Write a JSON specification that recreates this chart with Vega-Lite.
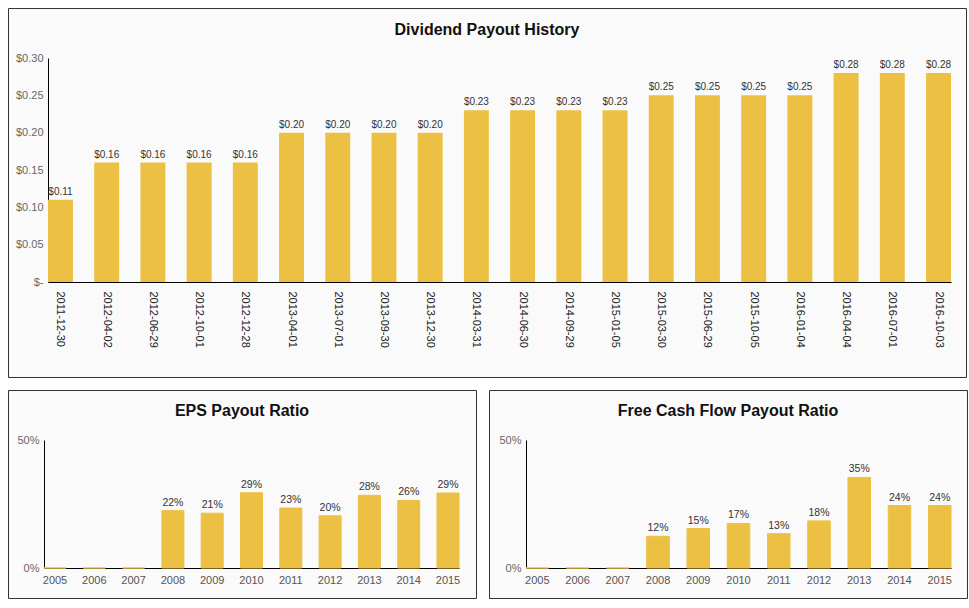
{
  "$schema": "https://vega.github.io/schema/vega-lite/v6.json",
  "background": "white",
  "padding": {"left": 7, "top": 7, "right": 3, "bottom": 3},
  "spacing": 11,
  "config": {
    "font": "Liberation Sans",
    "view": {"fill": "#fafafa", "stroke": "#333333", "strokeWidth": 1},
    "axis": {"ticks": false, "grid": false, "domainColor": "#000000", "domainWidth": 1, "labelFont": "Liberation Sans", "title": null},
    "title": {"font": "Liberation Sans", "fontSize": 16, "fontWeight": "bold", "color": "#111111", "frame": "group", "anchor": "middle", "baseline": "middle"}
  },
  "vconcat": [
    {
      "width": 958,
      "height": 369,
      "title": {"text": "Dividend Payout History", "offset": -30},
      "data": {"values": [
        {"date": "2011-12-30", "value": 0.11},
        {"date": "2012-04-02", "value": 0.16},
        {"date": "2012-06-29", "value": 0.16},
        {"date": "2012-10-01", "value": 0.16},
        {"date": "2012-12-28", "value": 0.16},
        {"date": "2013-04-01", "value": 0.20},
        {"date": "2013-07-01", "value": 0.20},
        {"date": "2013-09-30", "value": 0.20},
        {"date": "2013-12-30", "value": 0.20},
        {"date": "2014-03-31", "value": 0.23},
        {"date": "2014-06-30", "value": 0.23},
        {"date": "2014-09-29", "value": 0.23},
        {"date": "2015-01-05", "value": 0.23},
        {"date": "2015-03-30", "value": 0.25},
        {"date": "2015-06-29", "value": 0.25},
        {"date": "2015-10-05", "value": 0.25},
        {"date": "2016-01-04", "value": 0.25},
        {"date": "2016-04-04", "value": 0.28},
        {"date": "2016-07-01", "value": 0.28},
        {"date": "2016-10-03", "value": 0.28}
      ]},
      "encoding": {
        "x": {"field": "date", "type": "ordinal", "sort": null,
              "scale": {"range": [40, 943], "paddingInner": 0.46, "paddingOuter": 0},
              "axis": {"offset": -95, "labelAngle": 90, "labelFontSize": 11, "labelColor": "#222222", "labelPadding": 9}},
        "y": {"field": "value", "type": "quantitative",
              "scale": {"domain": [0, 0.3], "range": [274, 50], "nice": false},
              "axis": {"offset": -40, "values": [0, 0.05, 0.1, 0.15, 0.2, 0.25, 0.3],
                       "labelExpr": "datum.value == 0 ? '$-' : format(datum.value, '$.2f')",
                       "labelFontSize": 11, "labelColor": "#666666", "labelPadding": 5}}
      },
      "layer": [
        {"mark": {"type": "bar", "color": "#ECC143"}},
        {"mark": {"type": "text", "baseline": "alphabetic", "dy": -5, "fontSize": 10, "color": "#333333"},
         "encoding": {"text": {"field": "value", "type": "quantitative", "format": "$.2f"}}}
      ]
    },
    {
      "hconcat": [
        {
          "width": 468,
          "height": 208,
          "title": {"text": "EPS Payout Ratio", "offset": -29},
          "data": {"values": [
            {"year": "2005", "value": 0},
            {"year": "2006", "value": 0},
            {"year": "2007", "value": 0},
            {"year": "2008", "value": 0.224},
            {"year": "2009", "value": 0.214},
            {"year": "2010", "value": 0.294},
            {"year": "2011", "value": 0.234},
            {"year": "2012", "value": 0.204},
            {"year": "2013", "value": 0.284},
            {"year": "2014", "value": 0.264},
            {"year": "2015", "value": 0.293}
          ]},
          "encoding": {
            "x": {"field": "year", "type": "ordinal",
                  "scale": {"range": [36, 451], "paddingInner": 0.44, "paddingOuter": 0},
                  "axis": {"offset": -30, "labelAngle": 0, "labelFontSize": 11, "labelColor": "#555555", "labelPadding": 6}},
            "y": {"field": "value", "type": "quantitative",
                  "scale": {"domain": [0, 0.5], "range": [178, 50], "nice": false},
                  "axis": {"offset": -36, "values": [0, 0.5], "format": ".0%", "labelFontSize": 11, "labelColor": "#666666", "labelPadding": 5}}
          },
          "layer": [
            {"mark": {"type": "bar", "color": "#ECC143", "stroke": "#ECC143", "strokeWidth": 1}},
            {"transform": [{"filter": "datum.value > 0"}],
             "mark": {"type": "text", "baseline": "alphabetic", "dy": -5, "fontSize": 10.5, "color": "#333333"},
             "encoding": {"text": {"field": "value", "type": "quantitative", "format": ".0%"}}}
          ]
        },
        {
          "width": 478,
          "height": 208,
          "title": {"text": "Free Cash Flow Payout Ratio", "offset": -29},
          "data": {"values": [
            {"year": "2005", "value": 0},
            {"year": "2006", "value": 0},
            {"year": "2007", "value": 0},
            {"year": "2008", "value": 0.124},
            {"year": "2009", "value": 0.154},
            {"year": "2010", "value": 0.174},
            {"year": "2011", "value": 0.134},
            {"year": "2012", "value": 0.184},
            {"year": "2013", "value": 0.354},
            {"year": "2014", "value": 0.244},
            {"year": "2015", "value": 0.244}
          ]},
          "encoding": {
            "x": {"field": "year", "type": "ordinal",
                  "scale": {"range": [37, 462], "paddingInner": 0.44, "paddingOuter": 0},
                  "axis": {"offset": -30, "labelAngle": 0, "labelFontSize": 11, "labelColor": "#555555", "labelPadding": 6}},
            "y": {"field": "value", "type": "quantitative",
                  "scale": {"domain": [0, 0.5], "range": [178, 50], "nice": false},
                  "axis": {"offset": -37, "values": [0, 0.5], "format": ".0%", "labelFontSize": 11, "labelColor": "#666666", "labelPadding": 5}}
          },
          "layer": [
            {"mark": {"type": "bar", "color": "#ECC143", "stroke": "#ECC143", "strokeWidth": 1}},
            {"transform": [{"filter": "datum.value > 0"}],
             "mark": {"type": "text", "baseline": "alphabetic", "dy": -5, "fontSize": 10.5, "color": "#333333"},
             "encoding": {"text": {"field": "value", "type": "quantitative", "format": ".0%"}}}
          ]
        }
      ],
      "spacing": 11
    }
  ]
}
